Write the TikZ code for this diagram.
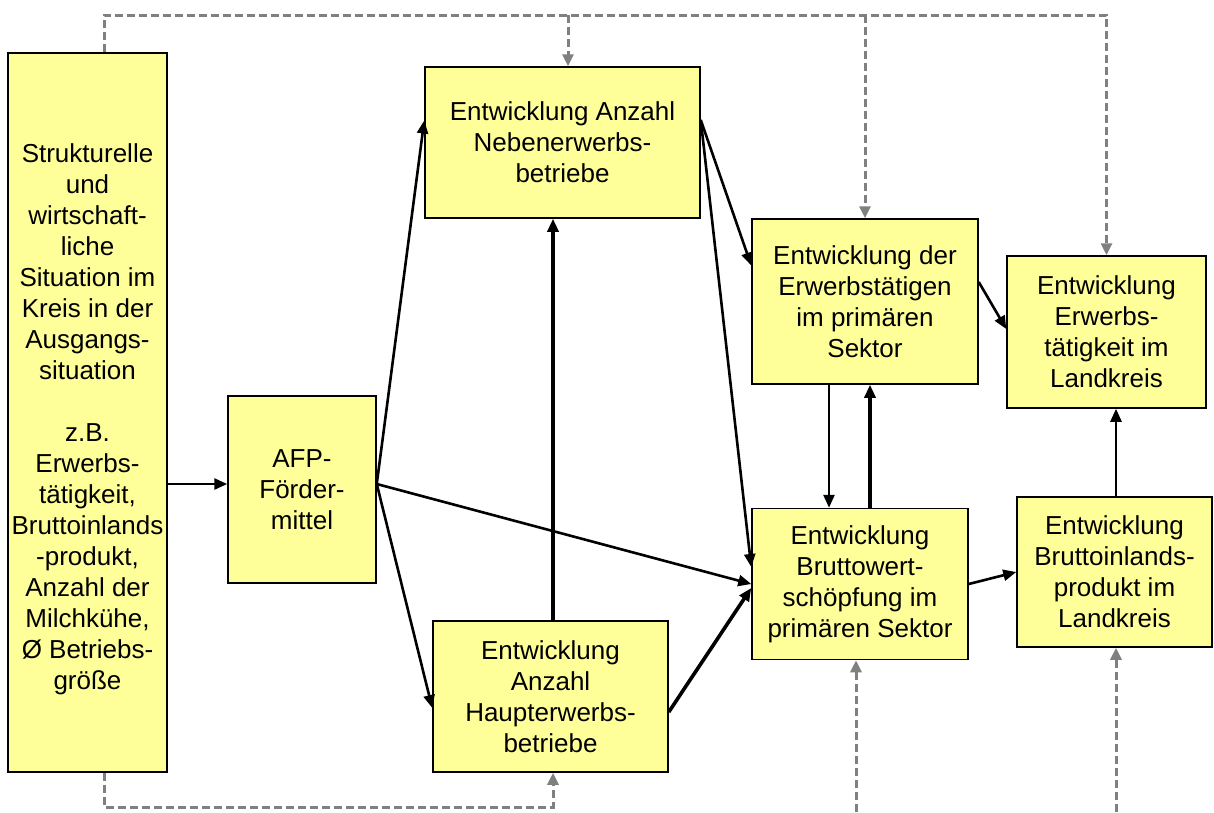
\documentclass[tikz,border=0pt]{standalone}
\usepackage{fontspec}
\setmainfont{Liberation Sans}
\usetikzlibrary{arrows.meta}
\definecolor{kastengelb}{HTML}{FFFF99}
\definecolor{strichgrau}{HTML}{808080}
\tikzset{
  kasten/.style={draw=black, line width=1.5pt, fill=kastengelb, inner sep=0pt,
    align=center, font=\fontsize{26}{31}\selectfont},
  pfeil/.style={line width=2.6pt, -{Triangle[length=13pt,width=11pt]}},
  dickpfeil/.style={line width=3.6pt, -{Triangle[length=13pt,width=11pt]}},
  rueck/.style={strichgrau, line width=3pt, dash pattern=on 8pt off 4pt,
    -{Triangle[length=12pt,width=11pt]}},
}
\begin{document}
\begin{tikzpicture}[x=1pt, y=-1pt]
  \useasboundingbox (0,0) rectangle (1214,812);

  % Boxes
  \node[kasten, minimum width=159pt, minimum height=719pt] (sit) at (87.5,412.5)
    {\mbox{}\\[2pt]Strukturelle\\und\\wirtschaft-\\liche\\Situation im\\Kreis in der\\Ausgangs-\\situation\\~\\z.B.\\Erwerbs-\\tätigkeit,\\Bruttoinlands\\-produkt,\\Anzahl der\\Milchkühe,\\Ø Betriebs-\\größe};
  \node[kasten, minimum width=148pt, minimum height=187pt] (afp) at (302,489.5)
    {AFP-\\Förder-\\mittel};
  \node[kasten, minimum width=275pt, minimum height=151pt] (neben) at (562.5,142.5)
    {Entwicklung Anzahl\\Nebenerwerbs-\\betriebe};
  \node[kasten, minimum width=235pt, minimum height=151pt] (haupt) at (550.5,696.5)
    {Entwicklung\\Anzahl\\Haupterwerbs-\\betriebe};
  \node[kasten, minimum width=226pt, minimum height=165pt] (ets) at (865,301.5)
    {Entwicklung der\\Erwerbstätigen\\im primären\\Sektor};
  \node[kasten, minimum width=216pt, minimum height=151pt] (bws) at (860,584)
    {Entwicklung\\Bruttowert-\\schöpfung im\\primären Sektor};
  \node[kasten, minimum width=199pt, minimum height=152pt] (etl) at (1106.5,332)
    {Entwicklung\\Erwerbs-\\tätigkeit im\\Landkreis};
  \node[kasten, minimum width=195pt, minimum height=150pt] (bip) at (1114.5,572)
    {Entwicklung\\Bruttoinlands-\\produkt im\\Landkreis};

  % Feedback lanes (dashed)
  \coordinate (oben) at (0,15);
  \coordinate (unten) at (0,807);
  \coordinate (rand) at (0,812);
  \draw[rueck] ([xshift=16.5pt]sit.north) -- ([xshift=16.5pt]sit.north |- oben) -| (etl.north);
  \foreach \ziel/\dx in {neben/5.5, ets/0} {
    \draw[rueck] ([xshift=\dx pt]\ziel.north |- oben) -- ([xshift=\dx pt]\ziel.north);
  }
  \draw[rueck] ([xshift=16.5pt]sit.south) -- ([xshift=16.5pt]sit.south |- unten) -| ([xshift=2.5pt]haupt.south);
  \foreach \ziel/\dx in {bws/-4, bip/1.5} {
    \draw[rueck] ([xshift=\dx pt]\ziel.south |- rand) -- ([xshift=\dx pt]\ziel.south);
  }

  % Effect arrows
  \coordinate (afpaus) at ([yshift=5.5pt]afp.east);
  \coordinate (nebenaus) at ([yshift=22.5pt]neben.east);
  \draw[pfeil] (sit.east |- afpaus) -- (afp.west |- afpaus);
  \draw[pfeil] (afpaus) -- ([yshift=22pt]neben.west);
  \draw[pfeil] (afpaus) -- ([yshift=-11.5pt]haupt.west);
  \draw[pfeil] (afpaus) -- (bws.west);
  \draw[pfeil] (nebenaus) -- ([yshift=36pt]ets.west);
  \draw[pfeil] (nebenaus) -- ([yshift=17pt]bws.west);
  \draw[dickpfeil] ([yshift=-15.5pt]haupt.east) -- ([yshift=-4pt]bws.west);
  \draw[dickpfeil] ([xshift=2.5pt]haupt.north) -- ([xshift=2.5pt]haupt.north |- neben.south);
  \draw[pfeil] ([xshift=-36pt]ets.south) -- ([xshift=-36pt]ets.south |- bws.north);
  \draw[dickpfeil] ([xshift=10pt]bws.north) -- ([xshift=10pt]bws.north |- ets.south);
  \draw[pfeil] ([yshift=19.5pt]ets.east) -- ([yshift=3pt]etl.west);
  \draw[pfeil] (bws.east) -- (bip.west);
  \draw[pfeil] ([xshift=1.5pt]bip.north) -- ([xshift=1.5pt]bip.north |- etl.south);
\end{tikzpicture}
\end{document}
